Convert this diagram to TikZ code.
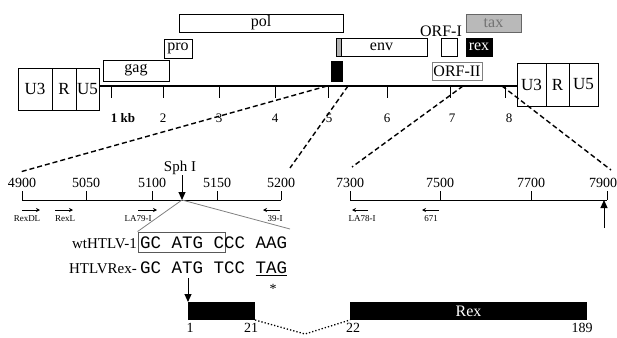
\documentclass[tikz,border=0pt]{standalone}
\usepackage{fontspec}
\setmainfont{Liberation Serif}
\setmonofont{Liberation Mono}
\usetikzlibrary{arrows.meta,positioning}

\tikzset{
  gene/.style={draw, line width=0.9pt, inner sep=0pt, outer sep=0pt, minimum height=18pt, font=\fontsize{16}{18}\selectfont},
  ltr/.style={draw, line width=0.9pt, inner sep=0pt, outer sep=0pt, font=\fontsize{17}{19}\selectfont},
  exon/.style={fill=black, inner sep=0pt, outer sep=0pt, minimum height=18pt, font=\fontsize{16}{18}\selectfont},
  ticklab/.style={font=\fontsize{13}{15}\selectfont, inner sep=0pt},
  poslab/.style={font=\fontsize{14}{16}\selectfont, inner sep=0pt},
  primer/.style={line width=1pt, -{Stealth[length=4pt,width=4pt]}},
  primerlab/.style={font=\fontsize{9}{10}\selectfont, inner sep=0pt},
  zoomline/.style={line width=1.4pt, dash pattern=on 5pt off 3pt},
  site/.style={line width=1pt, -{Triangle[length=8pt,width=7pt]}},
  seqlab/.style={font=\fontsize{15}{17}\selectfont, inner sep=0pt, anchor=base east},
  seq/.style={font=\fontsize{17.5}{19}\selectfont\ttfamily, inner sep=0pt, anchor=base west}
}

\begin{document}
\begin{tikzpicture}[x=1pt,y=-1pt]
        \useasboundingbox (0,0) rectangle (617,337);
        \node[ltr, minimum width=34pt, minimum height=42pt] (u3L) at (35,89) {U3};
        \node[ltr, minimum width=24pt, minimum height=42pt, right=0pt of u3L] (rL) {R};
        \node[ltr, minimum width=23pt, minimum height=42pt, right=0pt of rL] (u5L) {U5};
        \node[ltr, minimum width=29pt, minimum height=43pt] (u3R) at (531.5,84.5) {U3};
        \node[ltr, minimum width=23pt, minimum height=43pt, right=0pt of u3R] (rR) {R};
        \node[ltr, minimum width=29pt, minimum height=43pt, right=0pt of rR] (u5R) {U5};
        \coordinate (gline) at (0,86);
        \draw[line width=1.3pt] (u5L.east |- gline) -- (u3R.west |- gline);
        \draw[line width=1pt] (111,86) -- (111,98);
        \node[ticklab, font=\fontsize{13}{15}\selectfont\bfseries] (kb1) at (123,118) {1 kb};
        \foreach \x/\lx/\t in {163/163/2, 219/219/3, 275/275/4, 328/329/5, 387/387/6, 450/452/7, 505/509/8} {
          \draw[line width=1pt] (\x,86) -- (\x,98);
          \node[ticklab] (kb\t) at (\lx,118) {\t};
        }

        \node[gene, minimum width=164pt] (pol) at (261,23) {pol};
        \node[gene, minimum width=28pt, minimum height=19pt] (pro) at (178,48.5) {pro};
        \node[gene, minimum width=66pt, minimum height=21pt] (gag) at (136,70.5) {gag};
        \node[gene, minimum width=91pt] (env) at (381.5,47) {env};
        \node[gene, fill=gray!60, minimum width=5pt, anchor=north west] (envsp) at (env.north west) {};
        \node[gene, fill=black, minimum width=11pt, minimum height=20pt] (ex5) at (336.5,71) {};
        \node[font=\fontsize{16}{18}\selectfont, inner sep=0pt] (orf1lab) at (441,31) {ORF-I};
        \node[gene, minimum width=16pt] (orf1) at (449,47) {};
        \node[gene, draw=gray!80!black, fill=gray!55, text=black!55, minimum width=55pt] (tax) at (493.5,23) {tax};
        \node[gene, fill=black, text=white, minimum width=26pt] (rex) at (479,47) {rex};
        \node[gene, draw=gray, minimum width=50pt] (orf2) at (457,71) {ORF-II};

        \coordinate (z1) at (327,86); \coordinate (z2) at (348,86);
        \coordinate (z3) at (463,86); \coordinate (z4) at (502,86);
        \coordinate (z1e) at (20,172); \coordinate (z2e) at (290,168);
        \coordinate (z3e) at (352,167); \coordinate (z4e) at (611,170);
        \draw[zoomline] (z1) -- (z1e);
        \draw[zoomline] (z2) -- (z2e);
        \draw[zoomline] (z3) -- (z3e);
        \draw[zoomline] (z4) -- (z4e);

        \draw[line width=1pt] (22,200) -- (281,200);
        \foreach \x/\t in {22/4900, 86/5050, 152/5100, 217/5150, 281/5200} {
          \draw[line width=1pt] (\x,200) -- (\x,191);
          \node[poslab] (n\t) at (\x,183) {\t};
        }
        \draw[line width=1pt] (350,200) -- (607,200);
        \foreach \x/\lx/\t in {350/350/7300, 440/440/7500, 531/531/7700, 607/603/7900} {
          \draw[line width=1pt] (\x,200) -- (\x,191);
          \node[poslab] (n\t) at (\lx,183) {\t};
        }
        \foreach \xa/\xb/\lx/\t [count=\i] in {22/40/27/RexDL, 55/73/65/RexL, 138/157/138/LA79-I, 280/263/275/39-I, 368/352/362/LA78-I, 439/422/431/671} {
          \draw[primer] (\xa,210) -- (\xb,210);
          \node[primerlab] (pr\i) at (\lx,219) {\t};
        }

        \node[font=\fontsize{15}{17}\selectfont, inner sep=0pt] (sphlab) at (180,168) {Sph I};
        \coordinate (sph) at (182,200);
        \draw[site] (sphlab.south -| sph) -- (sph);
        \coordinate (site) at (604,200); \coordinate (sitefoot) at (604,228);
        \draw[site] (sitefoot) -- (site);

        \node[draw=gray!70!black, line width=0.9pt, inner sep=0pt, minimum width=87pt, minimum height=20pt] (wtbox) at (181.5,242) {};
        \coordinate (seqR) at (290,229);
        \draw[gray, line width=0.8pt] (wtbox.north west) -- (sph) -- (seqR);
        \node[seqlab] (wtlab) at (137,248.5) {wtHTLV-1};
        \node[seq] (wtseq) at (140,248.5) {GC ATG CCC AAG};
        \node[seqlab] (mutlab) at (137,273.5) {HTLVRex-};
        \node[seq] (mutseq) at (140,273.5) {GC ATG TCC \underline{TAG}};
        \node[font=\fontsize{14}{16}\selectfont, inner sep=0pt] (stop) at (273,289) {*};

        \node[exon, minimum width=67pt] (ex1) at (221.5,311) {};
        \node[exon, text=white, minimum width=237pt] (ex2) at (468.5,311) {Rex};
        \coordinate (atg) at (188,278);
        \draw[site] (atg) -- (ex1.north west);
        \coordinate (splice) at (305,334);
        \draw[dotted, line width=1.3pt] (ex1.south east) -- (splice) -- (ex2.south west);
        \node[poslab] (aa1) at (190,328) {1};
        \node[poslab] (aa21) at (251,328) {21};
        \node[poslab] (aa22) at (353,328) {22};
        \node[poslab] (aa189) at (582,328) {189};
      \end{tikzpicture}
\end{document}
